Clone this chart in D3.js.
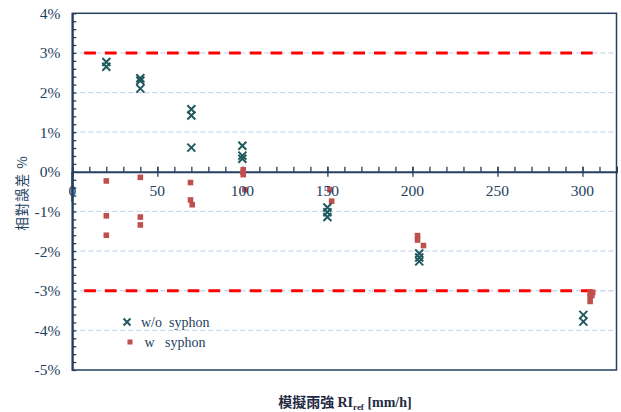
<!DOCTYPE html>
<html>
<head>
<meta charset="utf-8">
<script src="https://cdn.jsdelivr.net/npm/d3@7"></script>
<style>
  html, body { margin: 0; padding: 0; background: #fff; }
  svg { display: block; }
  text { white-space: pre; }
</style>
</head>
<body>
<svg id="chart" width="621" height="412"></svg>
<script>
// Relative error of rain gauge readings vs. simulated rain intensity
const withoutSyphonX = [20, 20, 40, 40, 40, 70, 70, 70, 100, 100, 100, 150, 150, 150, 204, 204, 204, 300.5, 300.5];
const withoutSyphonY = [2.77, 2.65, 2.36, 2.30, 2.10, 1.58, 1.42, 0.61, 0.66, 0.41, 0.33, -0.90, -1.02, -1.14, -2.06, -2.16, -2.26, -3.61, -3.78];

const withSyphonX = [20, 20, 20, 40, 40, 40, 69.5, 69.5, 70.5, 100.5, 100.5, 100.5, 101.5, 151.5, 152.5, 203, 203, 206.5, 304.5, 306, 304.5, 305.5, 304.5];
const withSyphonY = [-0.23, -1.11, -1.60, -0.14, -1.14, -1.34, -0.27, -0.71, -0.83, 0.05, -0.01, -0.07, -0.45, -0.45, -0.74, -1.61, -1.72, -1.86, -3.05, -3.04, -3.15, -3.12, -3.27];

const limitLevels = [3, -3];
const limitSpanX = [7, 310];

const xTicks = [0, 50, 100, 150, 200, 250, 300];
const yTicks = [4, 3, 2, 1, 0, -1, -2, -3, -4, -5];
const gridLevels = [3, 2, 1, -1, -2, -3, -4];

const legendLabels = ["w/o  syphon", " w   syphon"];

const navy = "#243f60";
const teal = "#215a5e";
const brick = "#c0504d";
const serif = "'Liberation Serif', 'Times New Roman', serif";
const cjk = "'Noto Sans CJK TC', 'Noto Sans CJK SC', sans-serif";

const svg = d3.select("#chart");
const plotL = 72.3, plotR = 616.5, plotT = 13.3, plotB = 370;

const x = d3.scaleLinear().domain([0, 320]).range([plotL, plotR]);
const y = d3.scaleLinear().domain([-5, 4]).range([plotB, plotT]);

// light dashed gridlines
svg.append("g").selectAll("line").data(gridLevels).join("line")
  .attr("x1", plotL).attr("x2", plotR)
  .attr("y1", d => y(d)).attr("y2", d => y(d))
  .attr("stroke", "#c6d9f1").attr("stroke-width", 1.3)
  .attr("stroke-dasharray", "5,3");

// ±3% limit lines
svg.append("g").selectAll("line").data(limitLevels).join("line")
  .attr("x1", x(limitSpanX[0])).attr("x2", x(limitSpanX[1]))
  .attr("y1", d => y(d)).attr("y2", d => y(d))
  .attr("stroke", "#ff0000").attr("stroke-width", 3)
  .attr("stroke-dasharray", "11.7,9");

// plot frame
svg.append("rect")
  .attr("x", plotL).attr("y", plotT)
  .attr("width", plotR - plotL).attr("height", plotB - plotT)
  .attr("fill", "none").attr("stroke", navy).attr("stroke-width", 1.5);

// y axis with inner ticks
const yAxisMinor = d3.axisRight(y).tickValues(d3.range(-5, 4.001, 0.2)).tickSize(4).tickFormat("");
svg.append("g").attr("transform", `translate(${plotL},0)`).call(yAxisMinor)
  .call(g => g.select(".domain").remove())
  .selectAll("line").attr("stroke", navy).attr("stroke-width", 1.3);

const yAxis = d3.axisLeft(y).tickValues(yTicks).tickSize(0).tickPadding(12)
  .tickFormat(d => d + "%");
svg.append("g").attr("transform", `translate(${plotL},0)`).call(yAxis)
  .call(g => g.select(".domain").attr("stroke", navy).attr("stroke-width", 2))
  .selectAll("text")
  .attr("fill", navy).attr("font-family", serif).attr("font-size", 15.5);

// x axis along the zero line
const zeroY = y(0);
const xAxisMinor = d3.axisTop(x).tickValues(d3.range(0, 321, 10)).tickSize(5).tickFormat("");
svg.append("g").attr("transform", `translate(0,${zeroY})`).call(xAxisMinor)
  .call(g => g.select(".domain").attr("stroke", navy).attr("stroke-width", 2))
  .selectAll("line").attr("stroke", navy).attr("stroke-width", 1.3);

const xAxisMajor = d3.axisBottom(x).tickValues(xTicks).tickSize(5).tickFormat("");
svg.append("g").attr("transform", `translate(0,${zeroY})`).call(xAxisMajor)
  .call(g => g.select(".domain").remove())
  .call(g => g.selectAll("line").attr("stroke", navy).attr("stroke-width", 1.3)
    .attr("y1", -5));

// markers
const withoutData = withoutSyphonX.map((v, i) => [v, withoutSyphonY[i]]);
const withData = withSyphonX.map((v, i) => [v, withSyphonY[i]]);

const s = 4;
const crossPath = `M${-s},${-s}L${s},${s}M${-s},${s}L${s},${-s}`;

svg.append("g").selectAll("rect").data(withData).join("rect")
  .attr("x", d => x(d[0]) - 2.8).attr("y", d => y(d[1]) - 2.8)
  .attr("width", 5.6).attr("height", 5.6)
  .attr("fill", brick);

svg.append("g").selectAll("path").data(withoutData).join("path")
  .attr("transform", d => `translate(${x(d[0])},${y(d[1])})`)
  .attr("d", crossPath)
  .attr("stroke", teal).attr("stroke-width", 2).attr("fill", "none");

// x tick labels drawn above the markers
svg.append("g").selectAll("text").data(xTicks).join("text")
  .attr("x", d => x(d)).attr("y", zeroY + 24)
  .attr("text-anchor", "middle")
  .attr("fill", navy).attr("font-family", serif).attr("font-size", 15.5)
  .text(d => d);
// the vertical axis passes through the "0" label
svg.append("line")
  .attr("x1", plotL).attr("x2", plotL).attr("y1", zeroY).attr("y2", zeroY + 30)
  .attr("stroke", navy).attr("stroke-width", 2);

// axis titles
svg.append("text")
  .attr("transform", `translate(27,193) rotate(-90)`)
  .attr("text-anchor", "middle")
  .attr("fill", navy).attr("font-family", cjk).attr("font-size", 13.5)
  .attr("letter-spacing", 1)
  .text("相對誤差 %");

const xt = svg.append("text")
  .attr("x", 345).attr("y", 407)
  .attr("text-anchor", "middle")
  .attr("fill", "#1f2a44").attr("font-weight", "bold").attr("font-size", 14);
xt.append("tspan").attr("font-family", cjk).text("模擬雨強 ");
xt.append("tspan").attr("font-family", serif).text("RI");
xt.append("tspan").attr("font-family", serif).attr("font-size", 9).attr("dy", 3).text("ref");
xt.append("tspan").attr("font-family", serif).attr("dy", -3).text(" [mm/h]");

// legend
const lg = svg.append("g");
lg.append("path").attr("transform", "translate(127,322)")
  .attr("d", `M-3.5,-3.5L3.5,3.5M-3.5,3.5L3.5,-3.5`)
  .attr("stroke", teal).attr("stroke-width", 2);
lg.append("rect").attr("x", 127.5).attr("y", 339.5).attr("width", 5).attr("height", 5).attr("fill", brick);
lg.selectAll("text").data(legendLabels).join("text")
  .attr("x", 141).attr("y", (d, i) => 327 + i * 20)
  .attr("fill", navy).attr("font-family", serif).attr("font-size", 14)
  .text(d => d);
</script>
</body>
</html>
